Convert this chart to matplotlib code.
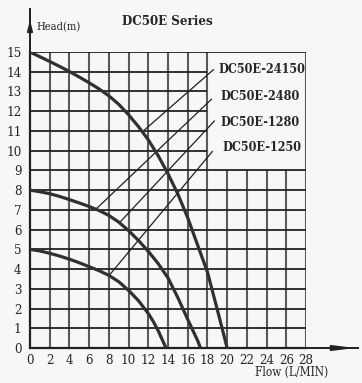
import matplotlib
matplotlib.use("Agg")
import matplotlib.pyplot as plt

# Pump curves (flow in L/MIN, head in m).
flow_15m = [0, 1, 2, 3, 4, 5, 6, 7, 8, 9, 10, 11, 12, 13, 14, 15, 16, 17, 18, 19, 20]
head_15m = [15, 14.76, 14.52, 14.27, 14.01, 13.73, 13.44, 13.13, 12.78, 12.35, 11.82,
            11.22, 10.55, 9.75, 8.83, 7.8, 6.6, 5.22, 3.85, 1.95, 0]

flow_8m = [0, 1, 2, 3, 4, 5, 6, 7, 8, 9, 10, 11, 12, 13, 14, 15, 16, 17, 17.3]
head_8m = [8, 7.92, 7.82, 7.68, 7.52, 7.35, 7.17, 6.97, 6.72, 6.38, 5.95, 5.45, 4.9,
           4.28, 3.55, 2.55, 1.45, 0.38, 0]

flow_5m = [0, 1, 2, 3, 4, 5, 6, 7, 8, 9, 10, 11, 12, 12.5, 13, 13.8]
head_5m = [5, 4.92, 4.8, 4.66, 4.5, 4.32, 4.12, 3.92, 3.68, 3.36, 2.92, 2.4, 1.75, 1.35,
           0.88, 0]

# model label, point on curve, end of leader line, label anchor
models = ["DC50E-24150", "DC50E-2480", "DC50E-1280", "DC50E-1250"]
leader_start = [(11.5, 11.0), (6.76, 7.07), (9.1, 6.36), (8.1, 3.72)]
leader_end = [(18.6, 14.1), (18.4, 12.6), (18.7, 11.5), (18.5, 9.96)]
label_pos = [(19.1, 14.1), (19.3, 12.76), (19.35, 11.41), (19.5, 10.14)]

x_ticks = list(range(0, 29, 2))
y_ticks = list(range(0, 16))

BG = "#f7f7f7"
INK = "#262626"
FONT = dict(family="DejaVu Serif", fontstretch="condensed")

fig = plt.figure(figsize=(3.62, 3.83), dpi=100, facecolor=BG)
ax = fig.add_axes([30 / 362, 35 / 383, 276 / 362, 296 / 383])
ax.set_facecolor(BG)
ax.set_xlim(0, 28)
ax.set_ylim(0, 15)

# grid, leaving the label box (x 18-28, y 9-15) open
for x in x_ticks[1:]:
    top = 9 if 18 < x < 28 else 15
    ax.vlines(x, 0, top, color="#5a5a5a", lw=1.5, zorder=1)
for y in y_ticks[1:]:
    right = 18 if 9 < y < 15 else 28
    ax.hlines(y, 0, right, color="#222222", lw=1.3, zorder=1)

for f, h in [(flow_15m, head_15m), (flow_8m, head_8m), (flow_5m, head_5m)]:
    ax.plot(f, h, color="#303030", lw=2.3, solid_capstyle="butt", zorder=3)

for name, (x0, y0), (x1, y1), (tx, ty) in zip(models, leader_start, leader_end, label_pos):
    ax.plot([x0, x1], [y0, y1], color="#202020", lw=0.9, zorder=2)
    ax.text(tx, ty, name, fontsize=9, weight="bold", color=INK, va="center", ha="left", **FONT)

for s in ["top", "right"]:
    ax.spines[s].set_visible(False)
for s in ["left", "bottom"]:
    ax.spines[s].set_color("#202020")
    ax.spines[s].set_linewidth(1.6)

ax.set_xticks(x_ticks)
ax.set_yticks(y_ticks)
ax.set_xticklabels([str(v) for v in x_ticks], fontsize=9.5, color=INK, **FONT)
ax.set_yticklabels([str(v) for v in y_ticks], fontsize=9.5, color=INK, **FONT)
ax.tick_params(length=0, pad=6)
ax.tick_params(axis="x", pad=4)

# axis arrows
ax.plot([0, 0], [1, 1.145], transform=ax.transAxes, color="#202020", lw=1.4, clip_on=False)
ax.annotate("", xy=(0, 1.118), xytext=(0, 1.085), xycoords="axes fraction",
            arrowprops=dict(arrowstyle="-|>,head_length=0.6,head_width=0.15", color="#202020", lw=1.4))
ax.plot([1, 1.188], [0, 0], transform=ax.transAxes, color="#202020", lw=1.4, clip_on=False)
ax.annotate("", xy=(1.188, 0), xytext=(1.1, 0), xycoords="axes fraction",
            arrowprops=dict(arrowstyle="-|>,head_length=1.2,head_width=0.15", color="#202020", lw=1.4))

fig.text(36 / 362, 1 - 27.5 / 383, "Head(m)", fontsize=8, color=INK, va="center", ha="left", **FONT)
fig.text(167 / 362, 1 - 21.5 / 383, "DC50E Series", fontsize=9.5, weight="bold", color=INK,
         va="center", ha="center", **FONT)
fig.text(255 / 362, 1 - 372 / 383, "Flow (L/MIN)", fontsize=8.5, color=INK, va="center", ha="left", **FONT)

fig.savefig("out.png", facecolor=BG)
